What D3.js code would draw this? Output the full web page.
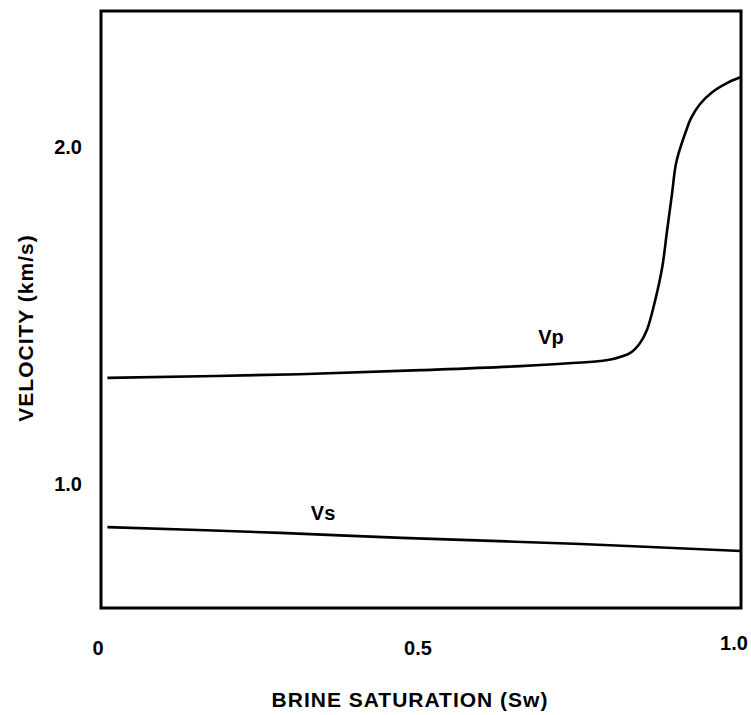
<!DOCTYPE html>
<html>
<head>
<meta charset="utf-8">
<script src="https://cdn.jsdelivr.net/npm/d3@7"></script>
<style>
  body { margin: 0; background: #fff; }
  svg text { font-family: "Liberation Sans", Arial, Helvetica, sans-serif; font-weight: bold; fill: #000; }
</style>
</head>
<body>
<svg id="chart" width="751" height="715"></svg>
<script>
// brine saturation (Sw) and velocity (km/s)
const vpSw = [0.01, 0.31, 0.50, 0.655, 0.78, 0.80, 0.827, 0.842, 0.853, 0.866, 0.877, 0.884, 0.892, 0.898, 0.905, 0.913, 0.922, 0.936, 0.955, 0.978, 1.0];
const vpVel = [1.315, 1.326, 1.338, 1.350, 1.365, 1.371, 1.389, 1.418, 1.457, 1.546, 1.644, 1.745, 1.858, 1.947, 1.997, 2.042, 2.086, 2.128, 2.163, 2.190, 2.208];

const vsSw = [0.01, 0.28, 0.47, 0.75, 1.0];
const vsVel = [0.872, 0.855, 0.840, 0.822, 0.801];

const xTicks = [0, 0.5, 1.0];
const xTickLabels = ["0", "0.5", "1.0"];
const yTicks = [1.0, 2.0];
const yTickLabels = ["1.0", "2.0"];

// curve names, placed at a saturation / velocity spot
const seriesLabels = [
  { name: "Vp", sw: 0.703, vel: 1.415 },
  { name: "Vs", sw: 0.347, vel: 0.893 }
];

const svg = d3.select("#chart");

const x = d3.scaleLinear().domain([0, 1]).range([101, 741]);
const y = d3.scaleLinear().domain([0.632, 2.404]).range([608, 11]);

// frame
svg.append("rect")
  .attr("x", x(0))
  .attr("y", y(2.404))
  .attr("width", x(1) - x(0))
  .attr("height", y(0.632) - y(2.404))
  .attr("fill", "none")
  .attr("stroke", "#000")
  .attr("stroke-width", 3);

// tick labels (no tick marks on the original)
svg.selectAll(".xtick")
  .data(xTicks)
  .enter()
  .append("text")
  .attr("class", "xtick")
  .attr("x", (d, i) => x(d) + (i === 2 ? -7 : -3))
  .attr("y", (d, i) => i === 2 ? 650 : 655)
  .attr("text-anchor", "middle")
  .style("font-size", "20px")
  .text((d, i) => xTickLabels[i]);

svg.selectAll(".ytick")
  .data(yTicks)
  .enter()
  .append("text")
  .attr("class", "ytick")
  .attr("x", 82)
  .attr("y", d => y(d) + 7)
  .attr("text-anchor", "end")
  .style("font-size", "20px")
  .text((d, i) => yTickLabels[i]);

// axis titles
svg.append("text")
  .attr("x", 410)
  .attr("y", 707)
  .attr("text-anchor", "middle")
  .style("font-size", "21px")
  .style("letter-spacing", "1px")
  .text("BRINE SATURATION (Sw)");

svg.append("text")
  .attr("transform", "translate(33,328) rotate(-90)")
  .attr("text-anchor", "middle")
  .style("font-size", "21px")
  .style("letter-spacing", "1px")
  .text("VELOCITY (km/s)");

const line = d3.line()
  .x(d => x(d[0]))
  .y(d => y(d[1]))
  .curve(d3.curveCatmullRom.alpha(0.5));

svg.append("path")
  .datum(d3.zip(vpSw, vpVel))
  .attr("d", line)
  .attr("fill", "none")
  .attr("stroke", "#000")
  .attr("stroke-width", 2.6);

svg.append("path")
  .datum(d3.zip(vsSw, vsVel))
  .attr("d", line)
  .attr("fill", "none")
  .attr("stroke", "#000")
  .attr("stroke-width", 2.6);

svg.selectAll(".slabel")
  .data(seriesLabels)
  .enter()
  .append("text")
  .attr("class", "slabel")
  .attr("x", d => x(d.sw))
  .attr("y", d => y(d.vel))
  .attr("text-anchor", "middle")
  .style("font-size", "20px")
  .text(d => d.name);
</script>
</body>
</html>
